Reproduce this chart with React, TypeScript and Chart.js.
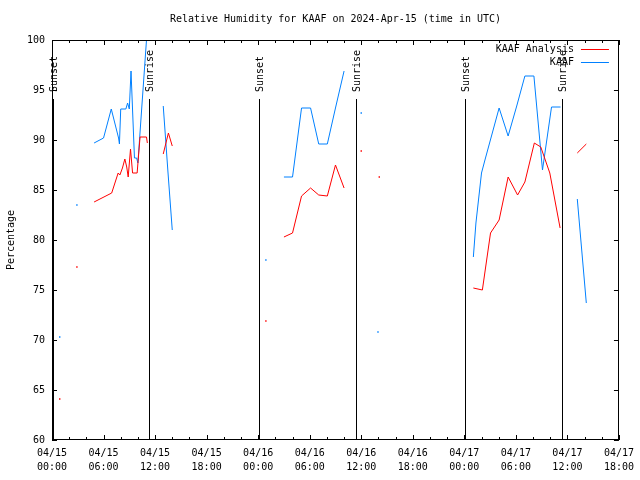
import React, { useEffect, useRef } from "react";
import { Chart, registerables } from "chart.js";

Chart.register(...registerables);

const FONT = "'DejaVu Sans Mono', 'Liberation Mono', monospace";

const titleText = "Relative Humidity for KAAF on 2024-Apr-15 (time in UTC)";
const yAxisTitle = "Percentage";
const seriesNames = ["KAAF Analysis", "KAAF"];
const seriesColors = ["#ff0000", "#0080ff"];

// hours since 2024-04-15 00:00 UTC; a null value breaks the line
const anaHours = [
  0.9, 1.5, 2.9, 3.5,
  4.9, 6.95, 7.7, 7.9, 8.2, 8.48, 8.7, 8.87, 9.14, 9.38, 9.91, 10.25, 11.0, 11.1, 12.0,
  12.95, 13.55, 14.0, 20.0,
  24.9, 26.0,
  27.0, 28.0, 29.05, 30.1, 31.05, 32.05, 33.0, 34.0, 35.0,
  36.0, 37.0,
  38.1, 45.0,
  49.05, 50.1, 51.05, 52.05, 53.1, 54.2, 55.05, 56.15, 56.9, 57.95, 59.15, 60.0,
  61.15, 62.2,
];
const anaValues = [
  64.1, null, 77.3, null,
  83.8, 84.7, 86.7, 86.5, 87.2, 88.1, 87.3, 86.3, 89.1, 86.7, 86.7, 90.3, 90.3, 89.7, null,
  88.6, 90.7, 89.4, null,
  71.9, null,
  80.3, 80.7, 84.4, 85.2, 84.5, 84.4, 87.5, 85.2, null,
  88.9, null,
  86.3, null,
  75.2, 75.0, 80.7, 82.0, 86.3, 84.5, 85.8, 89.7, 89.3, 86.7, 81.2, null,
  88.7, 89.6,
];

const obsHours = [
  0.9, 1.5, 2.9, 3.5,
  4.9, 6.0, 6.9, 7.75, 7.85, 8.0, 8.6, 8.8, 9.0, 9.2, 9.6, 9.85, 10.0, 11.0, 12.0,
  12.95, 13.5, 14.0, 20.0,
  24.9, 26.0,
  27.0, 28.0, 29.05, 30.1, 31.05, 32.05, 33.0, 34.0, 35.0,
  36.0, 37.0,
  37.95, 45.0,
  49.05, 49.35, 50.0, 50.4, 52.05, 53.1, 54.1, 55.05, 56.1, 57.1, 58.15, 59.2, 60.0,
  61.15, 62.2,
];
const obsValues = [
  70.3, null, 83.5, null,
  89.7, 90.2, 93.1, 90.2, 89.6, 93.1, 93.1, 93.7, 93.1, 96.9, 88.2, 88.2, 87.7, 100.0, null,
  93.4, 86.8, 81.0, null,
  78.0, null,
  86.3, 86.3, 93.2, 93.2, 89.6, 89.6, 93.2, 96.9, null,
  92.7, null,
  70.8, null,
  78.3, 81.7, 86.7, 88.0, 93.2, 90.4, 93.4, 96.4, 96.4, 87.0, 93.3, 93.3, null,
  84.1, 73.7,
];

const xTickHours = [0, 6, 12, 18, 24, 30, 36, 42, 48, 54, 60, 66];
const xTickDates = ["04/15", "04/15", "04/15", "04/15", "04/16", "04/16", "04/16", "04/16", "04/17", "04/17", "04/17", "04/17"];
const xTickTimes = ["00:00", "06:00", "12:00", "18:00", "00:00", "06:00", "12:00", "18:00", "00:00", "06:00", "12:00", "18:00"];
const xMinorStep = 2;
const yTicks = [60, 65, 70, 75, 80, 85, 90, 95, 100];

const sunHours = [0.06, 11.32, 24.08, 35.37, 48.13, 59.41];
const sunLabels = ["Sunset", "Sunrise", "Sunset", "Sunrise", "Sunset", "Sunrise"];
const sunLineTop = 94.1;
const sunLabelBase = 94.8;

function isolatedRadius(values: (number | null)[]) {
  return (ctx: any) => {
    const i = ctx.dataIndex;
    const prev = i > 0 ? values[i - 1] : null;
    const next = i < values.length - 1 ? values[i + 1] : null;
    return values[i] != null && prev == null && next == null ? 1 : 0;
  };
}

const decorPlugin = {
  id: "decor",
  beforeDatasetsDraw(chart: any) {
    const { ctx, chartArea, scales } = chart;
    const xs = scales.x;
    const ys = scales.y;
    ctx.save();
    ctx.strokeStyle = "#000";
    ctx.lineWidth = 1;
    const yTop = Math.round(ys.getPixelForValue(sunLineTop));
    sunHours.forEach((h) => {
      const x = Math.round(xs.getPixelForValue(h)) + 0.5;
      ctx.beginPath();
      ctx.moveTo(x, yTop);
      ctx.lineTo(x, chartArea.bottom);
      ctx.stroke();
    });
    ctx.fillStyle = "#000";
    ctx.font = "10px " + FONT;
    ctx.textAlign = "left";
    ctx.textBaseline = "middle";
    const yLab = ys.getPixelForValue(sunLabelBase);
    sunHours.forEach((h, i) => {
      const x = Math.round(xs.getPixelForValue(h)) + 1;
      ctx.save();
      ctx.translate(x, yLab);
      ctx.rotate(-Math.PI / 2);
      ctx.fillText(sunLabels[i], 0, 0);
      ctx.restore();
    });
    ctx.restore();
  },
  afterDraw(chart: any) {
    const { ctx, chartArea, scales } = chart;
    const xs = scales.x;
    const ys = scales.y;
    const L = chartArea.left, R = chartArea.right, T = chartArea.top, B = chartArea.bottom;
    ctx.save();
    ctx.strokeStyle = "#000";
    ctx.lineWidth = 1;
    ctx.strokeRect(Math.round(L) + 0.5, Math.round(T) + 0.5, Math.round(R - L) - 1, Math.round(B - T) - 1);
    ctx.beginPath();
    const xMin = xTickHours[0];
    const xMax = xTickHours[xTickHours.length - 1];
    for (let h = xMin; h <= xMax; h += xMinorStep) {
      const major = xTickHours.indexOf(h) >= 0;
      const len = major ? 5 : 3;
      const x = Math.round(xs.getPixelForValue(h)) + 0.5;
      ctx.moveTo(x, B);
      ctx.lineTo(x, B - len);
      ctx.moveTo(x, T);
      ctx.lineTo(x, T + len);
    }
    yTicks.forEach((v) => {
      const y = Math.round(ys.getPixelForValue(v)) + 0.5;
      ctx.moveTo(L, y);
      ctx.lineTo(L + 5, y);
      ctx.moveTo(R, y);
      ctx.lineTo(R - 5, y);
    });
    ctx.stroke();

    // legend (top right, text then line sample)
    ctx.font = "10px " + FONT;
    ctx.textAlign = "right";
    ctx.textBaseline = "middle";
    ctx.fillStyle = "#000";
    const legendRight = R - 45;
    const rows = [T + 9, T + 22];
    [0, 1].forEach((i) => {
      const y = rows[i];
      ctx.fillText(seriesNames[i], legendRight, y);
      ctx.strokeStyle = seriesColors[i];
      ctx.beginPath();
      ctx.moveTo(legendRight + 7, Math.round(y) + 0.5);
      ctx.lineTo(legendRight + 35, Math.round(y) + 0.5);
      ctx.stroke();
    });
    ctx.restore();
  },
};

export default function App() {
  const canvasRef = useRef<HTMLCanvasElement | null>(null);

  useEffect(() => {
    const canvas = canvasRef.current;
    if (!canvas) return;
    const anaData = anaHours.map((h, i) => ({ x: h, y: anaValues[i] }));
    const obsData = obsHours.map((h, i) => ({ x: h, y: obsValues[i] }));
    const chart = new Chart(canvas, {
      type: "line",
      data: {
        datasets: [
          {
            label: seriesNames[0],
            data: anaData as any,
            borderColor: seriesColors[0],
            backgroundColor: seriesColors[0],
            borderWidth: 1,
            pointRadius: isolatedRadius(anaValues) as any,
            pointStyle: "rect",
            pointBorderWidth: 0,
            pointHoverRadius: 0,
            spanGaps: false,
            tension: 0,
            clip: 0,
          } as any,
          {
            label: seriesNames[1],
            data: obsData as any,
            borderColor: seriesColors[1],
            backgroundColor: seriesColors[1],
            borderWidth: 1,
            pointRadius: isolatedRadius(obsValues) as any,
            pointStyle: "rect",
            pointBorderWidth: 0,
            pointHoverRadius: 0,
            spanGaps: false,
            tension: 0,
            clip: 0,
          } as any,
        ],
      },
      options: {
        animation: false,
        responsive: false,
        events: [],
        layout: { padding: { left: 0, right: 20, top: 0, bottom: 0 } },
        plugins: {
          legend: { display: false },
          tooltip: { enabled: false },
          title: {
            display: true,
            text: titleText,
            color: "#000",
            font: { family: FONT, size: 10, weight: "normal" },
            padding: { top: 13, bottom: 15 },
            fullSize: false,
          },
        },
        scales: {
          x: {
            type: "linear",
            min: xTickHours[0],
            max: xTickHours[xTickHours.length - 1],
            grid: { display: false, drawTicks: false },
            border: { display: false },
            afterBuildTicks: (s: any) => {
              s.ticks = xTickHours.map((v) => ({ value: v }));
            },
            afterFit: (s: any) => {
              s.height = 40;
            },
            ticks: {
              autoSkip: false,
              maxRotation: 0,
              minRotation: 0,
              padding: 6,
              color: "#000",
              font: { family: FONT, size: 10, lineHeight: 1.4 },
              callback: (_v: any, i: number) => [xTickDates[i], xTickTimes[i]],
            },
          },
          y: {
            type: "linear",
            min: yTicks[0],
            max: yTicks[yTicks.length - 1],
            grid: { display: false, drawTicks: false },
            border: { display: false },
            afterBuildTicks: (s: any) => {
              s.ticks = yTicks.map((v) => ({ value: v }));
            },
            afterFit: (s: any) => {
              s.width = 52;
            },
            ticks: {
              padding: 7,
              color: "#000",
              font: { family: FONT, size: 10 },
              callback: (v: any) => String(v),
            },
            title: {
              display: true,
              text: yAxisTitle,
              color: "#000",
              font: { family: FONT, size: 10 },
              padding: { top: 5, bottom: 0 },
            },
          },
        },
      } as any,
      plugins: [decorPlugin],
    });
    return () => chart.destroy();
  }, []);

  return (
    <div style={{ position: "absolute", left: 0, top: 0, width: 640, height: 480, background: "#fff" }}>
      <canvas ref={canvasRef} width={640} height={480} style={{ display: "block" }} />
    </div>
  );
}
